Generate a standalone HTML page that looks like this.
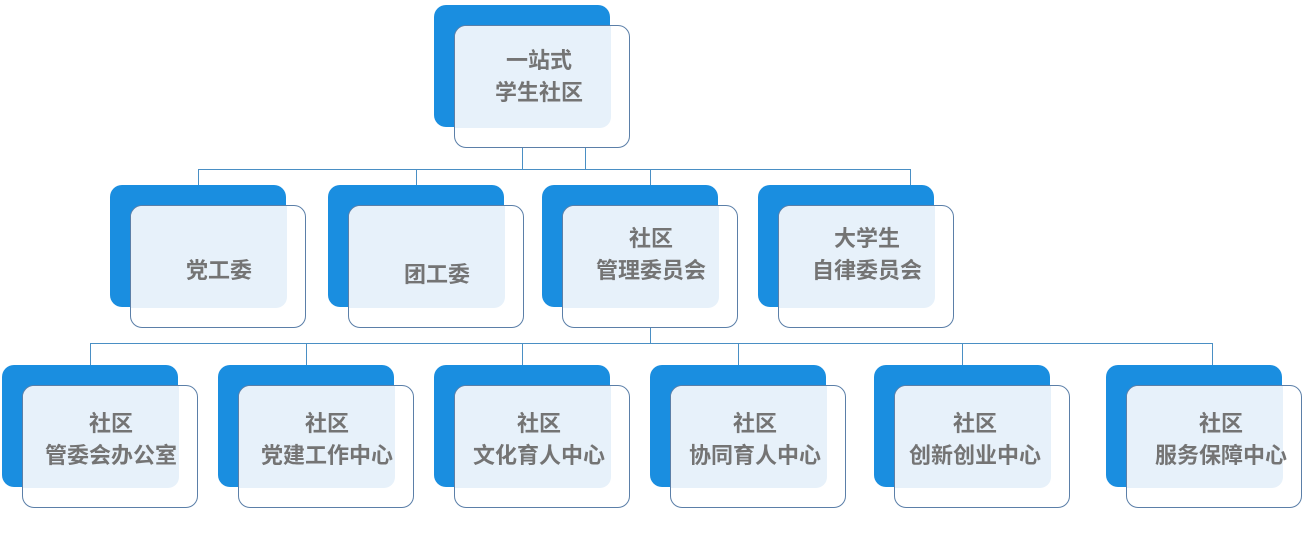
<!DOCTYPE html>
<html><head><meta charset="utf-8"><style>
html,body{margin:0;padding:0;background:#fff;}
body{width:1312px;height:535px;position:relative;overflow:hidden;font-family:"Liberation Sans","Noto Sans CJK SC",sans-serif;}
.b{position:absolute;width:176px;height:122px;background:#1a8ee0;border-radius:12px;}
.f{position:absolute;width:174px;height:121px;background:#fff;border:1.3px solid #5b7fa8;border-radius:12px;box-sizing:content-box;}
.l{position:absolute;left:0;top:0;width:156px;height:102px;background:#e7f1fa;border-radius:11px 0 11px 0;}
.t{position:absolute;left:0;top:0;width:176px;height:102px;display:flex;flex-direction:column;justify-content:center;align-items:center;color:#747474;font-size:22px;font-weight:bold;line-height:32px;letter-spacing:0px;}
.h{position:absolute;height:1px;background:#4a8fc4;}
.v{position:absolute;width:1px;background:#4a8fc4;}
</style></head><body>
<div class="v" style="left:522px;top:127px;height:42px"></div>
<div class="v" style="left:585px;top:127px;height:42px"></div>
<div class="h" style="left:198px;top:169px;width:713px"></div>
<div class="v" style="left:198px;top:169px;height:16px"></div>
<div class="v" style="left:416px;top:169px;height:16px"></div>
<div class="v" style="left:650px;top:169px;height:16px"></div>
<div class="v" style="left:910px;top:169px;height:16px"></div>
<div class="v" style="left:650px;top:328px;height:15px"></div>
<div class="h" style="left:90px;top:343px;width:1123px"></div>
<div class="v" style="left:90px;top:343px;height:22px"></div>
<div class="v" style="left:306px;top:343px;height:22px"></div>
<div class="v" style="left:522px;top:343px;height:22px"></div>
<div class="v" style="left:738px;top:343px;height:22px"></div>
<div class="v" style="left:962px;top:343px;height:22px"></div>
<div class="v" style="left:1212px;top:343px;height:22px"></div>

<div class="b" style="left:434px;top:5px"></div>
<div class="f" style="left:454px;top:25px"><div class="l"></div><div class="t" style="left:-4px"><div>一站式</div><div>学生社区</div></div></div>

<div class="b" style="left:110px;top:185px"></div>
<div class="f" style="left:130px;top:205px"><div class="l"></div><div class="t" style="top:14px"><div>党工委</div></div></div>
<div class="b" style="left:328px;top:185px"></div>
<div class="f" style="left:348px;top:205px"><div class="l"></div><div class="t" style="top:18px"><div>团工委</div></div></div>
<div class="b" style="left:542px;top:185px"></div>
<div class="f" style="left:562px;top:205px"><div class="l"></div><div class="t" style="top:-2px"><div>社区</div><div>管理委员会</div></div></div>
<div class="b" style="left:758px;top:185px"></div>
<div class="f" style="left:778px;top:205px"><div class="l"></div><div class="t" style="top:-2px"><div>大学生</div><div>自律委员会</div></div></div>

<div class="b" style="left:2px;top:365px"></div>
<div class="f" style="left:22px;top:385px"><div class="l"></div><div class="t" style="left:-4px;top:3px;width:184px"><div>社区</div><div>管委会办公室</div></div></div>
<div class="b" style="left:218px;top:365px"></div>
<div class="f" style="left:238px;top:385px"><div class="l"></div><div class="t" style="top:3px;width:176px"><div>社区</div><div>党建工作中心</div></div></div>
<div class="b" style="left:434px;top:365px"></div>
<div class="f" style="left:454px;top:385px"><div class="l"></div><div class="t" style="left:-8px;top:3px;width:184px"><div>社区</div><div>文化育人中心</div></div></div>
<div class="b" style="left:650px;top:365px"></div>
<div class="f" style="left:670px;top:385px"><div class="l"></div><div class="t" style="left:-4px;top:3px;width:176px"><div>社区</div><div>协同育人中心</div></div></div>
<div class="b" style="left:874px;top:365px"></div>
<div class="f" style="left:894px;top:385px"><div class="l"></div><div class="t" style="left:-8px;top:3px;width:176px"><div>社区</div><div>创新创业中心</div></div></div>
<div class="b" style="left:1106px;top:365px"></div>
<div class="f" style="left:1126px;top:385px"><div class="l"></div><div class="t" style="left:6px;top:3px;width:176px"><div>社区</div><div>服务保障中心</div></div></div>
</body></html>
